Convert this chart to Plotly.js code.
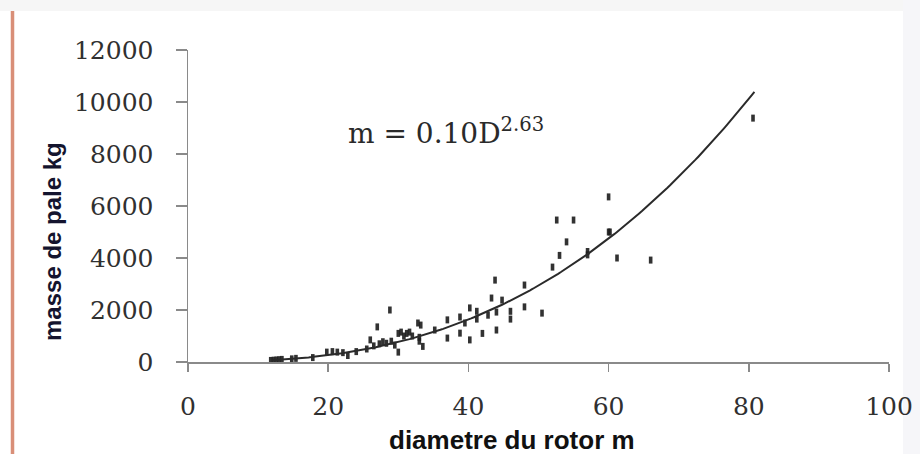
<!DOCTYPE html>
<html>
<head>
<meta charset="utf-8">
<script src="https://cdn.plot.ly/plotly-3.0.1.min.js"></script>
<style>
  html, body { margin: 0; padding: 0; background: #ffffff; }
  #chart { width: 920px; height: 454px; }
</style>
</head>
<body>
<div id="chart"></div>
<script>
// ---- data ----
const diametre = [11.8, 12.2, 12.6, 13.0, 13.4, 14.8, 15.4, 17.8,
  19.8, 20.6, 21.3, 22.1, 22.8, 24.0, 25.5, 26.0, 26.5, 27.0, 27.3, 27.8, 28.3, 28.8, 29.0, 29.5,
  30.0, 30.0, 30.4, 30.8, 31.2, 31.6, 32.0, 32.8, 33.0, 33.0, 33.2, 33.5, 35.2,
  37.0, 37.0, 38.8, 38.8, 39.5, 40.2, 40.2, 41.2, 41.2, 42.0, 42.8, 43.3, 43.8, 44.0, 44.0, 44.8,
  46.0, 46.0, 48.0, 48.0, 50.5, 52.0, 52.6, 53.0, 54.0, 55.0, 57.0, 57.0,
  60.0, 60.2, 60.0, 61.2, 66.0, 80.6];
const masse = [60, 70, 80, 90, 100, 120, 140, 170,
  380, 400, 380, 360, 250, 400, 500, 850, 620, 1350, 700, 780, 720, 2000, 800, 650,
  380, 1100, 1150, 1000, 1100, 1150, 1000, 1500, 800, 950, 1420, 600, 1230,
  1620, 920, 1730, 1110, 1500, 2080, 850, 1650, 1950, 1100, 1800, 2460, 3150, 1230, 1920, 2380,
  1650, 1950, 2960, 2120, 1880, 3650, 5460, 4100, 4620, 5460, 4120, 4250,
  5000, 5000, 6350, 4000, 3920, 9380];
// trendline shown on the chart: m = 0.10 D^2.63
const coefA = 0.10;
const coefB = 2.63;
const trendStart = 12;
const trendEnd = 80.8;
const xTicks = [0, 20, 40, 60, 80, 100];
const yTicks = [0, 2000, 4000, 6000, 8000, 10000, 12000];
const xTitle = 'diametre du rotor m';
const yTitle = 'masse de pale kg';
const eqText = 'm = 0.10D<sup>2.63</sup>';

// trendline points (from the displayed equation)
const trendX = [], trendY = [];
for (let d = trendStart; d <= trendEnd + 1e-9; d += 0.4) {
  trendX.push(d);
  trendY.push(coefA * Math.pow(d, coefB));
}

// ---- layout geometry ----
const W = 920, H = 454;
const L = 188, R = 31, T = 50, B = 92;
const PW = W - L - R, PH = H - T - B;
const px = p => (p - L) / PW;
const py = p => (H - B - p) / PH;

const tickFont = {family: 'DejaVu Serif, Liberation Serif, serif', size: 25, color: '#303030'};
const axisColor = '#8a8a8a';

const traces = [
  {
    x: diametre, y: masse, type: 'scatter', mode: 'markers',
    marker: {symbol: 'line-ns', size: 5, color: '#1c1c1c', opacity: 0.9, line: {width: 3.6, color: '#1c1c1c'}},
    hoverinfo: 'x+y', showlegend: false
  },
  {
    x: trendX, y: trendY, type: 'scatter', mode: 'lines',
    line: {color: '#2a2a2a', width: 2}, hoverinfo: 'skip', showlegend: false
  }
];

const layout = {
  width: W, height: H,
  margin: {l: L, r: R, t: T, b: B},
  paper_bgcolor: '#ffffff', plot_bgcolor: '#ffffff',
  showlegend: false,
  xaxis: {
    range: [0, 100], tickvals: xTicks, ticktext: xTicks.map(String),
    showgrid: false, zeroline: false, showline: true, linecolor: axisColor, linewidth: 1.5,
    ticks: 'outside', ticklen: 8, tickwidth: 1.5, tickcolor: axisColor,
    tickfont: tickFont, ticklabelstandoff: 13, fixedrange: true
  },
  yaxis: {
    range: [0, 12000], tickvals: yTicks, ticktext: yTicks.map(String),
    showgrid: false, zeroline: false, showline: true, linecolor: axisColor, linewidth: 1.5,
    ticks: 'outside', ticklen: 11, tickwidth: 1.5, tickcolor: axisColor,
    tickfont: tickFont, ticklabelstandoff: 17, fixedrange: true
  },
  annotations: [
    {text: eqText, xref: 'paper', yref: 'paper', x: px(346), y: py(131),
     xanchor: 'left', yanchor: 'middle', showarrow: false,
     font: {family: 'DejaVu Serif, Liberation Serif, serif', size: 28, color: '#2a2a2a'}},
    {text: '<b>' + xTitle + '</b>', xref: 'paper', yref: 'paper', x: px(512), y: py(440),
     xanchor: 'center', yanchor: 'middle', showarrow: false,
     font: {family: 'Liberation Sans, Arial, sans-serif', size: 26, color: '#111111'}},
    {text: '<b>' + yTitle + '</b>', xref: 'paper', yref: 'paper', x: px(52), y: py(242),
     xanchor: 'center', yanchor: 'middle', showarrow: false, textangle: -90,
     font: {family: 'Liberation Sans, Arial, sans-serif', size: 24, color: '#14142e'}}
  ],
  shapes: [
    {type: 'rect', xref: 'paper', yref: 'paper', x0: px(0), x1: px(W), y0: py(0), y1: py(11),
     fillcolor: '#f6f6f6', line: {width: 0}, layer: 'below'},
    {type: 'rect', xref: 'paper', yref: 'paper', x0: px(903), x1: px(W), y0: py(0), y1: py(H),
     fillcolor: '#f6f6f9', line: {width: 0}, layer: 'below'},
    {type: 'line', xref: 'paper', yref: 'paper', x0: px(12.5), x1: px(12.5), y0: py(11), y1: py(H),
     line: {color: '#d98f78', width: 3.5}}
  ]
};

Plotly.newPlot('chart', traces, layout, {staticPlot: true, displayModeBar: false});
</script>
</body>
</html>
